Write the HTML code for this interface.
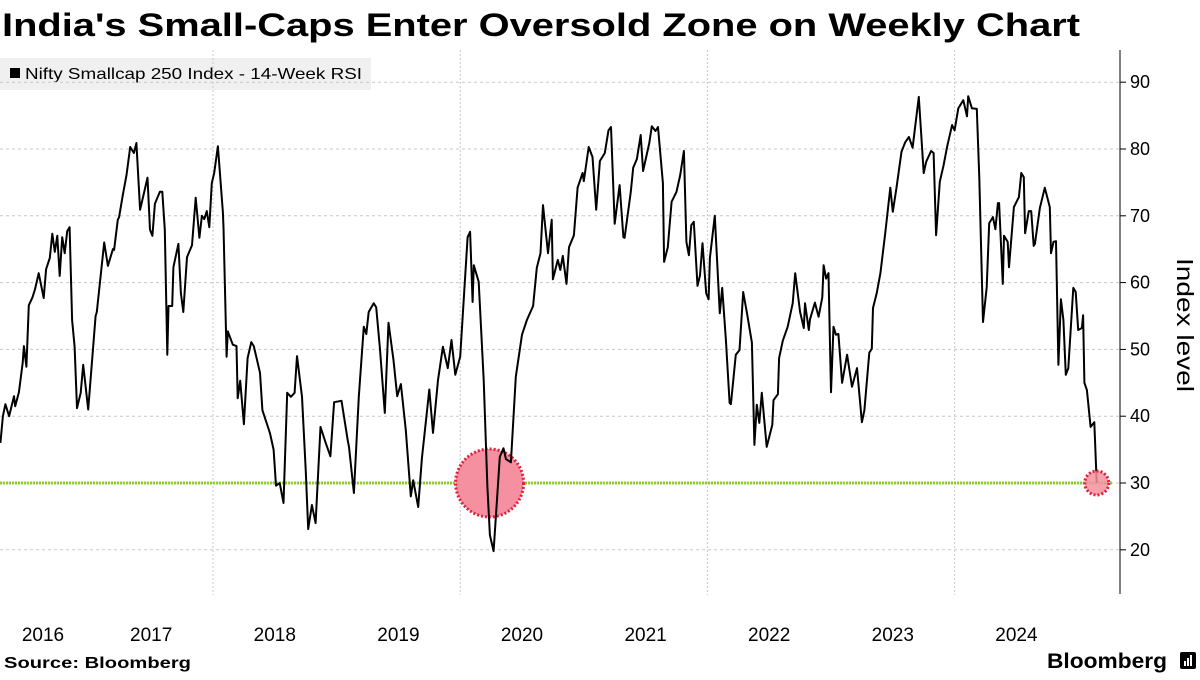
<!DOCTYPE html>
<html><head><meta charset="utf-8"><style>
body{margin:0;background:#fff;width:1200px;height:675px;overflow:hidden;font-family:"Liberation Sans",sans-serif}
</style></head><body>
<svg id="chart" width="1200" height="675" xmlns="http://www.w3.org/2000/svg" font-family="Liberation Sans, sans-serif">
<text x="2" y="36" font-size="32" font-weight="bold" fill="#000" textLength="1078" lengthAdjust="spacingAndGlyphs">India's Small-Caps Enter Oversold Zone on Weekly Chart</text>
<g>
<rect x="0" y="58" width="371" height="32" fill="#f0f0f0"/>
<rect x="10" y="68" width="10" height="10" fill="#000"/>
<text x="25" y="79" font-size="16" fill="#000" textLength="337" lengthAdjust="spacingAndGlyphs">Nifty Smallcap 250 Index - 14-Week RSI</text>
</g>
<g id="grid"></g>
<g id="marks"></g>
<g id="axes"></g>
<text transform="translate(1177,325) rotate(90)" text-anchor="middle" font-size="23" fill="#000" textLength="134" lengthAdjust="spacingAndGlyphs">Index level</text>
<text x="4" y="668" font-size="16" font-weight="bold" fill="#000" textLength="187" lengthAdjust="spacingAndGlyphs">Source: Bloomberg</text>
<text x="1047" y="668" font-size="21" font-weight="bold" fill="#000" textLength="120" lengthAdjust="spacingAndGlyphs">Bloomberg</text>
<g>
<rect x="1180" y="652" width="16" height="17" rx="2" fill="#000"/>
<rect x="1184" y="661" width="2" height="5" fill="#fff"/>
<rect x="1187" y="658" width="2" height="8" fill="#fff"/>
<rect x="1190" y="655" width="2" height="11" fill="#fff"/>
</g>
</svg>
<script>
const yTicks=[20,30,40,50,60,70,80,90];
const xYears=[2016,2017,2018,2019,2020,2021,2022,2023,2024];
const gridYears=[2018,2020,2022,2024];
const oversold=30;
const dates=[2016.28,2016.30,2016.32,2016.35,2016.39,2016.40,2016.43,2016.46,2016.47,2016.49,2016.51,2016.54,2016.56,2016.59,2016.63,2016.65,2016.68,2016.70,2016.72,2016.74,2016.76,2016.78,2016.80,2016.82,2016.84,2016.86,2016.88,2016.90,2016.93,2016.95,2016.99,2017.05,2017.06,2017.12,2017.15,2017.19,2017.20,2017.23,2017.24,2017.27,2017.30,2017.33,2017.36,2017.38,2017.41,2017.47,2017.49,2017.51,2017.53,2017.57,2017.59,2017.61,2017.63,2017.64,2017.67,2017.68,2017.72,2017.74,2017.76,2017.79,2017.83,2017.86,2017.89,2017.91,2017.93,2017.95,2017.97,2017.99,2018.01,2018.04,2018.08,2018.085,2018.11,2018.12,2018.16,2018.19,2018.20,2018.22,2018.25,2018.28,2018.31,2018.33,2018.38,2018.40,2018.46,2018.49,2018.51,2018.54,
2018.57,2018.60,2018.63,2018.66,2018.68,2018.72,2018.75,2018.77,2018.80,2018.83,2018.87,2018.91,2018.95,2018.98,2019.04,2019.09,2019.10,2019.14,2019.18,2019.22,2019.24,2019.26,2019.30,2019.32,2019.35,2019.39,2019.42,2019.46,2019.49,2019.52,2019.56,2019.60,2019.62,2019.66,2019.69,2019.73,2019.75,2019.78,2019.82,2019.86,2019.90,2019.93,2019.96,2020.00,2020.06,2020.08,2020.10,2020.11,2020.15,2020.19,2020.22,2020.24,2020.27,2020.30,2020.32,2020.35,2020.37,2020.41,2020.45,2020.50,2020.54,2020.59,2020.62,
2020.65,2020.67,2020.71,2020.74,2020.75,2020.79,2020.81,2020.83,2020.86,2020.88,2020.92,2020.95,2020.99,2021.00,2021.04,2021.07,2021.10,2021.13,2021.17,2021.20,2021.22,2021.25,2021.29,2021.32,2021.33,2021.38,2021.40,2021.43,2021.46,2021.48,2021.53,2021.55,2021.58,2021.60,2021.64,2021.65,2021.68,2021.71,2021.75,2021.78,2021.81,2021.83,2021.85,2021.87,2021.89,2021.92,2021.94,2021.96,2021.99,2022.01,2022.02,2022.06,2022.10,2022.12,2022.15,2022.18,2022.19,2022.23,2022.26,2022.29,2022.32,2022.36,2022.38,2022.40,2022.42,2022.44,2022.48,2022.525,2022.535,2022.57,2022.58,2022.61,2022.65,2022.69,2022.71,2022.75,2022.78,2022.79,2022.82,
2022.83,2022.87,2022.90,2022.93,2022.94,2022.96,2022.98,2023.00,2023.02,2023.04,2023.06,2023.09,2023.13,2023.17,2023.21,2023.25,2023.27,2023.31,2023.33,2023.34,2023.37,2023.40,2023.44,2023.48,2023.50,2023.53,2023.57,2023.60,2023.63,2023.66,2023.71,2023.75,2023.77,2023.81,2023.83,2023.85,2023.88,2023.91,2023.94,2023.98,2024.00,2024.03,2024.07,2024.10,2024.11,2024.14,2024.18,2024.20,2024.23,2024.26,2024.28,2024.31,2024.33,2024.35,2024.36,2024.39,2024.40,2024.43,2024.44,2024.48,2024.52,2024.54,2024.56,2024.57,2024.60,2024.62,2024.64,2024.65,2024.69,2024.73,2024.77,2024.78,2024.80,2024.82,2024.84,2024.86,2024.88,2024.90,2024.92,2024.96,2024.98,2025.00,2025.03,2025.04,2025.05,2025.07,2025.10,2025.13,2025.15];
const rsi=[36,40,41.8,40,43,41.5,43.6,48,50.5,47.4,56.6,57.8,59,61.4,57.7,62,63.7,67.3,64.6,67,61,66.8,64.4,67.7,68.3,54.4,50.4,41.2,43.5,47.7,41,55,55.6,66,62.5,65,64.9,69.4,69.8,73.1,76.1,80.3,79.4,80.9,70.9,75.7,67.9,67,71.8,73.6,73.6,67.9,49.2,56.5,56.5,62.3,65.8,58.4,55.6,63.8,65.6,72.7,66.7,70,69.5,70.7,68.3,74.9,76.4,80.4,70.5,68.3,48.9,52.7,50.7,50.5,42.7,45.3,38.8,48.7,51.1,50.5,46.5,40.9,37.5,35,29.6,30,
27,43.5,42.9,43.5,49,42.9,32,23.1,26.7,24,38.4,36.1,34,42.1,42.3,36.4,35.4,28.5,42.9,53.4,52.3,55.6,56.9,56.3,50.2,40.5,54,48.4,43,44.8,37.9,28,30.4,26.4,33.7,40.5,44,37.5,45.4,50.4,47.2,51.4,46.2,48.9,66.8,67.6,57.1,62.6,60.1,45.4,29.4,22.2,19.8,28.2,33.9,35.2,33.6,33.1,45.9,52.2,54.4,56.5,62.2,
64.4,71.6,64.4,69.4,60.5,63.4,61.9,64,59.8,65.3,67.1,74.2,76.4,75.2,80.3,78.8,70.9,78.2,79.4,82.8,83.3,68.8,74.6,66.8,66.7,73.6,77.2,78.5,82.1,76.7,80.9,83.4,82.7,83.3,74.9,63.1,65.3,72.1,73.6,76.1,79.7,66.1,64.1,68.6,69.1,59.5,61.1,65.9,58.4,57.5,63.7,70,55.4,59.2,51.4,42,41.8,49.2,49.9,58.6,55.4,51,35.7,41.7,39,43.5,35.4,38.7,42.4,43.3,48.7,51.3,53.4,56.9,61.4,55.6,53.2,56.9,52.9,
54.5,57,54.9,57.8,62.6,60.6,61.4,43.6,53.4,52.2,52.3,45,49.2,44.4,47.2,39.1,40.9,49.5,50.1,56.2,58.4,61.4,67.6,74.2,70.6,74.2,79.6,81,81.8,80.2,87.8,76.4,78.1,79.7,79.4,67.1,75.1,77.5,80.4,83.6,82.8,86.1,87.3,84.9,87.9,86.1,86,75.7,54.1,59.3,68.9,69.8,68,71.9,71.9,59.8,67,66.1,62.3,71.3,72.8,76.4,75.8,67.4,70.7,70.7,65.5,65.8,71.2,74.2,71.3,64.4,66.1,66.2,47.7,57.5,54.4,46.2,47.2,59.2,58.6,52.9,53.2,55.1,45,43.9,38.4,39.1,30];
const NS='http://www.w3.org/2000/svg';
const X=t=>213+(t-2018)*123.6;
const Y=v=>483-(v-30)*6.68;
function mk(tag,attrs,parent){const e=document.createElementNS(NS,tag);for(const k in attrs)e.setAttribute(k,attrs[k]);parent.appendChild(e);return e;}
const grid=document.getElementById('grid'),marks=document.getElementById('marks'),axes=document.getElementById('axes');
yTicks.forEach(v=>{
 const l=mk('line',{x1:0,x2:1120,y1:Y(v),y2:Y(v),stroke:'#c8c8c8','stroke-dasharray':'3,3','stroke-width':1},grid);
 
 
 const tk=mk('line',{x1:1120,x2:1126,y1:Y(v),y2:Y(v),stroke:'#000'},axes);
 
 
 const t=mk('text',{x:1130,y:Y(v)+6,'font-size':18,fill:'#000'},axes);t.textContent=v;
 
 
});
gridYears.forEach(yr=>{
 const l=mk('line',{x1:X(yr),x2:X(yr),y1:50,y2:595,stroke:'#c8c8c8','stroke-dasharray':'2,2'},grid);
 
 
});
xYears.forEach(yr=>{
 const cx=Math.max(X(yr+0.5),43);
 const t=mk('text',{x:cx,y:641,'font-size':19,'text-anchor':'middle',fill:'#000'},axes);t.textContent=yr;
 
 
});
const ax=mk('line',{x1:1120,x2:1120,y1:50,y2:594,stroke:'#000'},axes);


const ol=mk('line',{x1:0,x2:1112,y1:Y(oversold),y2:Y(oversold),stroke:'#8fcf2a','stroke-width':3,'stroke-dasharray':'2,1'},marks);


const lowIdx=rsi.indexOf(Math.min(...rsi.slice(0,200)));
const c1=mk('circle',{cx:X(dates[lowIdx])-4,cy:Y(oversold),r:34,fill:'#f4909f',stroke:'#e0203c','stroke-width':3,'stroke-dasharray':'2,2'},marks);


let d='';dates.forEach((t,i)=>{d+=(i?'L':'M')+X(t).toFixed(1)+','+Y(rsi[i]).toFixed(1);});
const p=mk('path',{d:d,fill:'none',stroke:'#000','stroke-width':2,'stroke-linejoin':'round'},marks);


const li=dates.length-1;
const c2=mk('circle',{cx:X(dates[li]),cy:Y(rsi[li]),r:12,fill:'#f4909f','fill-opacity':0.85,stroke:'#e0203c','stroke-width':3,'stroke-dasharray':'2,2'},marks);


</script>
</body></html>
